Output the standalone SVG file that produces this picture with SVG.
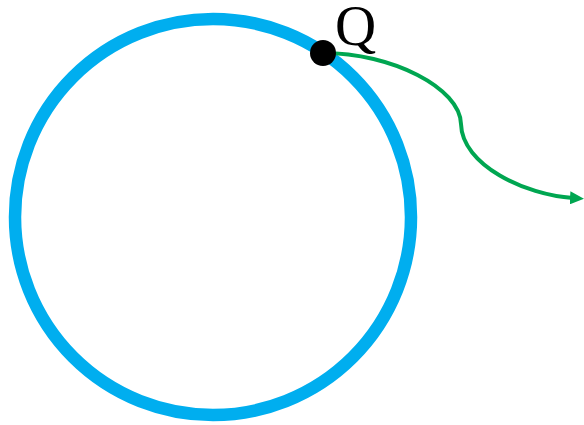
<svg xmlns="http://www.w3.org/2000/svg" width="584" height="425" viewBox="0 0 584 425">
<style>
.ring{fill:none;stroke:#00AEEF;stroke-width:12.5}
.conn{fill:none;stroke:#00A651;stroke-width:4}
.lbl{font-family:"Liberation Serif",serif;font-size:57px;fill:#000}
</style>
<defs>
<marker id="arr" markerWidth="14" markerHeight="13" refX="3" refY="6.5" orient="auto" markerUnits="userSpaceOnUse">
<path d="M0,0 L14,6.5 L0,13 z" fill="#00A651"/>
</marker>
</defs>
<rect width="584" height="425" fill="#fff"/>
<g id="circle"><circle class="ring" cx="213" cy="217" r="198"/></g>
<g id="connectors">
<path class="conn" d="M323 53 C392 53 460 88 461 124 C462 165 525 195 573 198" marker-end="url(#arr)"/>
</g>
<g id="Q">
<circle cx="323" cy="53" r="13" fill="#000"/>
<text class="lbl" x="335" y="45">Q</text>
</g>
</svg>
